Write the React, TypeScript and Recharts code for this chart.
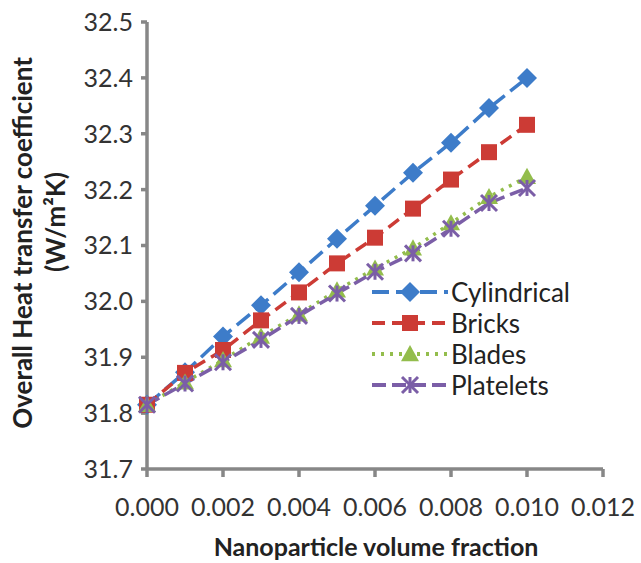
import React from "react";
import { Line, LineChart, XAxis, YAxis } from "recharts";

const fractions = [0, 0.001, 0.002, 0.003, 0.004, 0.005, 0.006, 0.007, 0.008, 0.009, 0.01];
const cylindrical = [31.815, 31.873, 31.937, 31.993, 32.052, 32.112, 32.171, 32.23, 32.284, 32.346, 32.4];
const bricks = [31.815, 31.872, 31.913, 31.966, 32.016, 32.068, 32.114, 32.166, 32.218, 32.267, 32.316];
const blades = [31.815, 31.855, 31.895, 31.937, 31.977, 32.02, 32.059, 32.095, 32.14, 32.187, 32.223];
const platelets = [31.815, 31.853, 31.891, 31.931, 31.974, 32.014, 32.053, 32.086, 32.13, 32.176, 32.203];

const xTicks = [0, 0.002, 0.004, 0.006, 0.008, 0.01, 0.012];
const yTicks = [31.7, 31.8, 31.9, 32.0, 32.1, 32.2, 32.3, 32.4, 32.5];

const data = fractions.map((f, i) => ({
  f,
  cylindrical: cylindrical[i],
  bricks: bricks[i],
  blades: blades[i],
  platelets: platelets[i],
}));

const FONT = "Lato, 'Open Sans', sans-serif";
const AXIS = "#878787";

type Shape = "diamond" | "square" | "triangle" | "star";

const series: { key: string; name: string; color: string; dash: string; shape: Shape }[] = [
  { key: "cylindrical", name: "Cylindrical", color: "#3d7cc9", dash: "17 7", shape: "diamond" },
  { key: "bricks", name: "Bricks", color: "#cc3b35", dash: "13 7", shape: "square" },
  { key: "blades", name: "Blades", color: "#93bd4c", dash: "3 6", shape: "triangle" },
  { key: "platelets", name: "Platelets", color: "#7b5ea7", dash: "14 6", shape: "star" },
];

function Marker({ cx, cy, shape, color }: { cx: number; cy: number; shape: Shape; color: string }) {
  if (shape === "diamond") {
    const r = 10;
    return <path d={`M${cx},${cy - r} L${cx + r},${cy} L${cx},${cy + r} L${cx - r},${cy} Z`} fill={color} />;
  }
  if (shape === "square") {
    const r = 8;
    return <rect x={cx - r} y={cy - r} width={r * 2} height={r * 2} fill={color} />;
  }
  if (shape === "triangle") {
    const r = 9;
    return <path d={`M${cx},${cy - r} L${cx + r},${cy + r * 0.8} L${cx - r},${cy + r * 0.8} Z`} fill={color} />;
  }
  const r = 8;
  return (
    <g stroke={color} strokeWidth={3}>
      <line x1={cx - r} y1={cy - r} x2={cx + r} y2={cy + r} />
      <line x1={cx - r} y1={cy + r} x2={cx + r} y2={cy - r} />
      <line x1={cx} y1={cy - r} x2={cx} y2={cy + r} />
    </g>
  );
}

function ChartLegend() {
  return (
    <div style={{ position: "absolute", left: 370, top: 276, fontFamily: FONT, fontSize: 26, color: "#222" }}>
      {series.map((s) => (
        <div key={s.key} style={{ display: "flex", alignItems: "center", height: 31 }}>
          <svg width={80} height={24} style={{ marginRight: 1 }}>
            <line x1={2} y1={12} x2={78} y2={12} stroke={s.color} strokeWidth={4} strokeDasharray={s.dash} />
            <Marker cx={40} cy={12} shape={s.shape} color={s.color} />
          </svg>
          <span>{s.name}</span>
        </div>
      ))}
    </div>
  );
}

export default function App() {
  return (
    <div style={{ position: "absolute", left: 0, top: 0, width: 641, height: 563, background: "#fff" }}>
      <LineChart width={641} height={563} data={data} margin={{ top: 22, right: 38, bottom: 0, left: 0 }}>
        <XAxis
          dataKey="f"
          type="number"
          domain={[0, 0.012]}
          ticks={xTicks}
          tickFormatter={(v: number) => v.toFixed(3)}
          height={94}
          stroke={AXIS}
          strokeWidth={3.5}
          tickSize={8}
          tickMargin={21}
          tick={{ fill: "#333", fontSize: 25, fontFamily: FONT }}
          label={{
            content: () => (
              <text x={376} y={556} textAnchor="middle" fontFamily={FONT} fontWeight={700} fontSize={25} fill="#222">
                Nanoparticle volume fraction
              </text>
            ),
          }}
        />
        <YAxis
          type="number"
          domain={[31.7, 32.5]}
          ticks={yTicks}
          tickFormatter={(v: number) => v.toFixed(1)}
          width={147}
          stroke={AXIS}
          strokeWidth={3.5}
          tickSize={6}
          tickMargin={8}
          tick={{ fill: "#333", fontSize: 25, fontFamily: FONT }}
          label={{
            content: () => (
              <g fontFamily={FONT} fontWeight={700} fontSize={26} fill="#222">
                <text x={22} y={243} transform="rotate(-90 22 243)" textAnchor="middle" dominantBaseline="central">
                  Overall Heat transfer coefficient
                </text>
                <text x={55} y={222} transform="rotate(-90 55 222)" textAnchor="middle" dominantBaseline="central">
                  (W/m²K)
                </text>
              </g>
            ),
          }}
        />
        {series.map((s) => (
          <Line
            key={s.key}
            dataKey={s.key}
            name={s.name}
            type="linear"
            stroke={s.color}
            strokeWidth={3.5}
            strokeDasharray={s.dash}
            isAnimationActive={false}
            dot={(p: any) => <Marker key={`${s.key}-${p.index}`} cx={p.cx} cy={p.cy} shape={s.shape} color={s.color} />}
            activeDot={false}
          />
        ))}
      </LineChart>
      <ChartLegend />
    </div>
  );
}
